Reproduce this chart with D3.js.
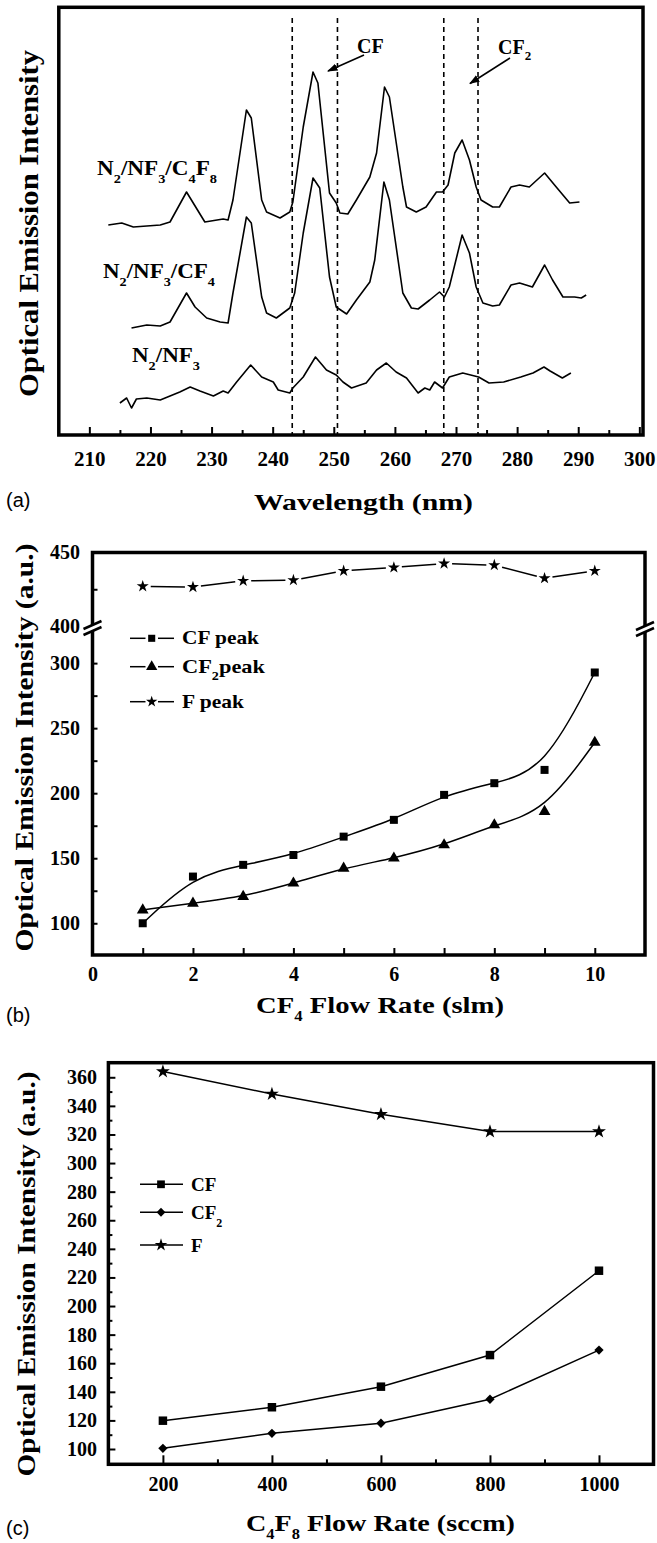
<!DOCTYPE html>
<html lang="en">
<head>
<meta charset="UTF-8">
<title>Optical emission intensity</title>
<script src="https://cdnjs.cloudflare.com/ajax/libs/d3/7.8.5/d3.min.js"></script>
<style>
  body { margin: 0; background: #fff; }
  svg text { font-family: "Liberation Serif", "Times New Roman", serif; font-weight: bold; fill: #000; }
  svg text.tag { font-family: "Liberation Sans", Arial, sans-serif; font-weight: normal; }
</style>
</head>
<body>
<svg id="chart" width="657" height="1543"></svg>
<script>
// ---------- (a) spectra: wavelength (nm) / intensity (a.u.) ----------
const waveC4F8 = [213.1,215.3,217.2,221.6,223.2,225.9,228.9,231.9,232.7,233.5,235.7,236.5,238.2,239.0,241.2,242.8,243.3,245.0,246.6,247.4,249.3,250.4,251.0,252.3,253.7,255.9,257.0,258.3,259.1,261.3,261.9,263.5,265.1,266.8,267.8,268.7,269.8,271.0,272.2,273.3,274.1,276.0,277.1,279.0,280.4,282.0,284.5,286.4,288.6,290.2];
const intC4F8 = [210,212,208,210,213,243,213,216,215,235,325,317,235,223,217,223,233,308,363,352,242,232,222,221,235,258,282,348,338,248,228,223,228,243,243,250,282,295,275,248,235,228,228,248,250,248,262,248,232,233];

const waveCF4 = [216.9,219.4,221.6,223.2,225.9,227.3,229.2,231.4,232.7,233.5,235.7,236.5,238.2,239.0,240.6,242.8,243.6,245.0,246.6,247.7,249.3,250.4,252.1,253.7,255.9,256.7,258.2,259.1,261.3,262.7,263.8,265.7,267.3,268.1,268.9,271.0,272.2,273.3,274.4,276.0,277.1,279.0,280.4,282.5,284.5,285.8,287.5,289.4,290.5,291.3];
const intCF4 = [107,110,109,113,142,128,117,113,112,142,218,212,138,122,117,127,142,202,257,247,158,128,121,135,153,175,253,235,142,127,126,135,143,138,148,200,182,148,132,129,130,150,152,148,170,155,138,138,137,140];

const waveNF3 = [215.0,216.1,216.9,217.7,219.4,221.6,224.8,226.5,228.1,230.3,231.9,232.7,234.1,236.4,238.2,240.1,240.9,242.8,243.3,245.0,247.0,248.8,250.4,251.5,252.9,255.3,257.0,258.6,260.2,261.9,263.8,264.9,265.7,266.5,267.8,268.9,271.1,273.7,275.4,277.8,280.6,282.6,284.4,285.4,287.4,288.8];
const intNF3 = [32,37,27,36,37,35,43,48,44,39,44,42,53,70,58,53,45,42,47,58,78,65,60,53,47,52,65,72,63,57,42,47,45,53,47,58,62,58,52,53,58,62,68,64,57,62];

const peakLines = [243.2, 250.6, 268.0, 273.6];
const waveTicks = [210, 220, 230, 240, 250, 260, 270, 280, 290, 300];
const waveMinor = [215, 225, 235, 245, 255, 265, 275, 285, 295];

// ---------- (b) CF4 flow rate ----------
const cf4Flow = [1, 2, 3, 4, 5, 6, 7, 8, 9, 10];
const cf4CF  = [100, 135.9, 144.9, 152.5, 166.6, 179.5, 198.7, 207.7, 217.9, 292.8];
const cf4CF2 = [110.2, 115.4, 120.5, 130.8, 142.3, 150, 160.2, 175.6, 185.8, 239];
const cf4F   = [427, 426.5, 430.7, 431.2, 437.5, 439.8, 442.5, 441.4, 432.5, 437.5];
const cf4XLabels = [0, 2, 4, 6, 8, 10];
const cf4LowTicks = [100, 125, 150, 175, 200, 225, 250, 275, 300];
const cf4LowLabels = [100, 150, 200, 250, 300];
const cf4HighTicks = [425];
const cf4HighLabels = [400, 450];

// ---------- (c) C4F8 flow rate ----------
const c4f8Flow = [200, 400, 600, 800, 1000];
const c4f8CF  = [119.8, 129.2, 143.6, 165.7, 224.7];
const c4f8CF2 = [100.5, 111, 118, 134.8, 169.2];
const c4f8F   = [364, 348.3, 334.1, 322, 322];
const c4f8XLabels = [200, 400, 600, 800, 1000];
const c4f8XMinor = [300, 500, 700, 900];
const c4f8YLabels = [100, 120, 140, 160, 180, 200, 220, 240, 260, 280, 300, 320, 340, 360];
const c4f8YMinor = [110, 130, 150, 170, 190, 210, 230, 250, 270, 290, 310, 330, 350];

const svg = d3.select('#chart');

function frame(x0, y0, x1, y1) {
  svg.append('rect')
    .attr('x', x0).attr('y', y0)
    .attr('width', x1 - x0).attr('height', y1 - y0)
    .attr('fill', 'none').attr('stroke', '#000').attr('stroke-width', 3.5);
}

// text with subscripts: parts starting with "_" are subscripts
function rich(sel, parts, subSize, subDy) {
  let down = false;
  parts.forEach(p => {
    const isSub = p.startsWith('_');
    const t = sel.append('tspan').text(isSub ? p.slice(1) : p);
    if (isSub) {
      t.attr('font-size', subSize);
      if (!down) { t.attr('dy', subDy); down = true; }
    } else if (down) {
      t.attr('dy', -subDy); down = false;
    }
  });
  return sel;
}

function styleAxis(g, size) {
  g.attr('font-size', size);
  g.select('.domain').remove();
  g.selectAll('.tick line').attr('stroke-width', 2);
}

function yTitle(x, y, len, size, txt) {
  svg.append('text')
    .attr('transform', `translate(${x},${y}) rotate(-90)`)
    .attr('text-anchor', 'middle')
    .attr('font-size', size)
    .attr('textLength', len).attr('lengthAdjust', 'spacingAndGlyphs')
    .text(txt);
}

function tag(x, y, txt) {
  svg.append('text').attr('class', 'tag').attr('x', x).attr('y', y)
    .attr('font-size', 20).text(txt);
}

// arrowhead
svg.append('defs').append('marker')
  .attr('id', 'arrow').attr('viewBox', '0 0 10 10')
  .attr('refX', 9).attr('refY', 5)
  .attr('markerWidth', 7).attr('markerHeight', 7)
  .attr('orient', 'auto')
  .append('path').attr('d', 'M0,1.5 L10,5 L0,8.5 Z').attr('fill', '#000');

// =================== panel (a) ===================
const ax = d3.scaleLinear().domain([205, 300.6]).range([58.8, 643]);
const ay = d3.scaleLinear().domain([0, 428]).range([435, 7]);

const specLine = d3.line().x(d => ax(d[0])).y(d => ay(d[1]));
[[waveC4F8, intC4F8], [waveCF4, intCF4], [waveNF3, intNF3]].forEach(([w, v]) => {
  svg.append('path')
    .datum(w.map((x, i) => [x, v[i]]))
    .attr('d', specLine)
    .attr('fill', 'none').attr('stroke', '#000').attr('stroke-width', 1.6)
    .attr('stroke-linejoin', 'round');
});

svg.selectAll('.peak-line').data(peakLines).enter().append('line')
  .attr('class', 'peak-line')
  .attr('x1', d => ax(d)).attr('x2', d => ax(d))
  .attr('y1', 18).attr('y2', 435)
  .attr('stroke', '#000').attr('stroke-width', 1.6)
  .attr('stroke-dasharray', '5,4');

const axMinor = svg.append('g').attr('transform', 'translate(0,435)')
  .call(d3.axisBottom(ax).tickValues(waveMinor).tickSize(-5).tickFormat(''));
styleAxis(axMinor, 21);
const axMajor = svg.append('g').attr('transform', 'translate(0,435)')
  .call(d3.axisBottom(ax).tickValues(waveTicks).tickSize(-8).tickPadding(16).tickFormat(d3.format('d')));
styleAxis(axMajor, 21);

frame(58.8, 7.3, 643, 435);

// series labels
rich(svg.append('text').attr('x', 97).attr('y', 175).attr('font-size', 21)
  .attr('textLength', 120).attr('lengthAdjust', 'spacingAndGlyphs'),
  ['N', '_2', '/NF', '_3', '/C', '_4', 'F', '_8'], 13, 8);
rich(svg.append('text').attr('x', 103).attr('y', 278).attr('font-size', 21)
  .attr('textLength', 112).attr('lengthAdjust', 'spacingAndGlyphs'),
  ['N', '_2', '/NF', '_3', '/CF', '_4'], 13, 8);
rich(svg.append('text').attr('x', 132).attr('y', 362).attr('font-size', 21)
  .attr('textLength', 68).attr('lengthAdjust', 'spacingAndGlyphs'),
  ['N', '_2', '/NF', '_3'], 13, 8);

// peak annotations
svg.append('text').attr('x', 357).attr('y', 52.5).attr('font-size', 20).text('CF');
svg.append('line').attr('x1', 364).attr('y1', 55).attr('x2', 328).attr('y2', 71)
  .attr('stroke', '#000').attr('stroke-width', 1.5).attr('marker-end', 'url(#arrow)');
rich(svg.append('text').attr('x', 498).attr('y', 53.5).attr('font-size', 20),
  ['CF', '_2'], 13, 6);
svg.append('line').attr('x1', 510).attr('y1', 58).attr('x2', 470).attr('y2', 83.5)
  .attr('stroke', '#000').attr('stroke-width', 1.5).attr('marker-end', 'url(#arrow)');

svg.append('text').attr('x', 363.5).attr('y', 510).attr('text-anchor', 'middle')
  .attr('font-size', 24).attr('textLength', 219).attr('lengthAdjust', 'spacingAndGlyphs')
  .text('Wavelength (nm)');
yTitle(38, 223.5, 347, 28, 'Optical Emission Intensity');
tag(6, 507, '(a)');

// =================== panel (b) ===================
const bx = d3.scaleLinear().domain([0, 11]).range([92.5, 645]);
const byLow = d3.scaleLinear().domain([75.6, 327]).range([955, 628]);
const byHigh = d3.scaleLinear().domain([400, 450]).range([626, 552.5]);

const bTicks = svg.append('g').attr('transform', 'translate(0,955)')
  .call(d3.axisBottom(bx).tickValues(cf4Flow).tickSize(-7).tickFormat(''));
styleAxis(bTicks, 20);
const bLabels = svg.append('g').attr('transform', 'translate(0,955)')
  .call(d3.axisBottom(bx).tickValues(cf4XLabels).tickSize(0).tickPadding(12).tickFormat(d3.format('d')));
styleAxis(bLabels, 20);

const bLowT = svg.append('g').attr('transform', 'translate(92.5,0)')
  .call(d3.axisLeft(byLow).tickValues(cf4LowTicks).tickSize(-5).tickFormat(''));
styleAxis(bLowT, 20);
const bLowL = svg.append('g').attr('transform', 'translate(92.5,0)')
  .call(d3.axisLeft(byLow).tickValues(cf4LowLabels).tickSize(0).tickPadding(12.5));
styleAxis(bLowL, 20);
const bHighT = svg.append('g').attr('transform', 'translate(92.5,0)')
  .call(d3.axisLeft(byHigh).tickValues(cf4HighTicks).tickSize(-5).tickFormat(''));
styleAxis(bHighT, 20);
const bHighL = svg.append('g').attr('transform', 'translate(92.5,0)')
  .call(d3.axisLeft(byHigh).tickValues(cf4HighLabels).tickSize(0).tickPadding(12.5));
styleAxis(bHighL, 20);

frame(92.5, 552.5, 645, 955);

// axis break marks
[[92.5, 628], [645, 629]].forEach(([x, y]) => {
  const g = svg.append('g').attr('transform', `translate(${x},${y})`);
  g.append('path').attr('d', 'M-9,1 L9,-7 L9,-1 L-9,7 Z').attr('fill', '#fff');
  g.append('line').attr('x1', -9).attr('y1', 1).attr('x2', 9).attr('y2', -7)
    .attr('stroke', '#000').attr('stroke-width', 2.5);
  g.append('line').attr('x1', -9).attr('y1', 7).attr('x2', 9).attr('y2', -1)
    .attr('stroke', '#000').attr('stroke-width', 2.5);
});

const smooth = (ys, sc) => d3.line().curve(d3.curveBasis).x((d, i) => bx(cf4Flow[i])).y(d => sc(d))(ys);
svg.append('path').attr('d', smooth(cf4CF, byLow))
  .attr('fill', 'none').attr('stroke', '#000').attr('stroke-width', 1.5);
svg.append('path').attr('d', smooth(cf4CF2, byLow))
  .attr('fill', 'none').attr('stroke', '#000').attr('stroke-width', 1.5);

// F peak: straight segments broken around the markers
const fPts = cf4Flow.map((x, i) => [bx(x), byHigh(cf4F[i])]);
for (let i = 0; i < fPts.length - 1; i++) {
  const [x0, y0] = fPts[i], [x1, y1] = fPts[i + 1];
  const L = Math.hypot(x1 - x0, y1 - y0), ux = (x1 - x0) / L, uy = (y1 - y0) / L, gap = 8;
  svg.append('line')
    .attr('x1', x0 + ux * gap).attr('y1', y0 + uy * gap)
    .attr('x2', x1 - ux * gap).attr('y2', y1 - uy * gap)
    .attr('stroke', '#000').attr('stroke-width', 1.5);
}

const sym = (type, size) => d3.symbol().type(type).size(size)();
function markers(xs, ys, xsc, ysc, type, size) {
  svg.append('g').selectAll('path').data(ys).enter().append('path')
    .attr('transform', (d, i) => `translate(${xsc(xs[i])},${ysc(d)})`)
    .attr('d', sym(type, size)).attr('fill', '#000');
}
markers(cf4Flow, cf4CF, bx, byLow, d3.symbolSquare, 64);
markers(cf4Flow, cf4CF2, bx, byLow, d3.symbolTriangle, 60);
markers(cf4Flow, cf4F, bx, byHigh, d3.symbolStar, 45);

// legend (b)
const bLegend = [
  { type: d3.symbolSquare, size: 50, parts: ['CF peak'], len: 77 },
  { type: d3.symbolTriangle, size: 55, parts: ['CF', '_2', 'peak'], len: 83 },
  { type: d3.symbolStar, size: 40, parts: ['F peak'], len: 62 }
];
const bLegendY = [638.3, 666.7, 701.7];
bLegend.forEach((e, i) => {
  const y = bLegendY[i];
  svg.append('line').attr('x1', 130).attr('x2', 145.5).attr('y1', y).attr('y2', y)
    .attr('stroke', '#000').attr('stroke-width', 1.5);
  svg.append('line').attr('x1', 158).attr('x2', 174).attr('y1', y).attr('y2', y)
    .attr('stroke', '#000').attr('stroke-width', 1.5);
  svg.append('path').attr('transform', `translate(151.7,${y})`).attr('d', sym(e.type, e.size));
  rich(svg.append('text').attr('x', 182).attr('y', y + 6).attr('font-size', 19)
    .attr('textLength', e.len).attr('lengthAdjust', 'spacingAndGlyphs'), e.parts, 12, 7);
});

rich(svg.append('text').attr('x', 256).attr('y', 1013).attr('font-size', 24)
  .attr('textLength', 248).attr('lengthAdjust', 'spacingAndGlyphs'),
  ['CF', '_4', ' Flow Rate (slm)'], 14, 8);
yTitle(33, 747.5, 408, 25, 'Optical Emission Intensity (a.u.)');
tag(6, 1022, '(b)');

// =================== panel (c) ===================
const cx = d3.scaleLinear().domain([100, 1100]).range([108.4, 653.5]);
const cy = d3.scaleLinear().domain([89.3, 370.2]).range([1464.3, 1062.7]);

const cxMinor = svg.append('g').attr('transform', 'translate(0,1464.3)')
  .call(d3.axisBottom(cx).tickValues(c4f8XMinor).tickSize(-5).tickFormat(''));
styleAxis(cxMinor, 20);
const cxMajor = svg.append('g').attr('transform', 'translate(0,1464.3)')
  .call(d3.axisBottom(cx).tickValues(c4f8XLabels).tickSize(-9).tickPadding(12.5).tickFormat(d3.format('d')));
styleAxis(cxMajor, 20);
const cyMinor = svg.append('g').attr('transform', 'translate(108.4,0)')
  .call(d3.axisLeft(cy).tickValues(c4f8YMinor).tickSize(-4).tickFormat(''));
styleAxis(cyMinor, 20);
const cyMajor = svg.append('g').attr('transform', 'translate(108.4,0)')
  .call(d3.axisLeft(cy).tickValues(c4f8YLabels).tickSize(-7).tickPadding(11.5));
styleAxis(cyMajor, 20);
cyMajor.selectAll('text').attr('x', -11.5);

frame(108.4, 1062.7, 653.5, 1464.3);

const cLine = d3.line().x((d, i) => cx(c4f8Flow[i])).y(d => cy(d));
[c4f8CF, c4f8CF2, c4f8F].forEach(s => {
  svg.append('path').attr('d', cLine(s))
    .attr('fill', 'none').attr('stroke', '#000').attr('stroke-width', 1.5);
});
const diamond = d3.symbolDiamond2 || d3.symbolDiamond;
markers(c4f8Flow, c4f8CF, cx, cy, d3.symbolSquare, 72);
markers(c4f8Flow, c4f8CF2, cx, cy, diamond, 55);
markers(c4f8Flow, c4f8F, cx, cy, d3.symbolStar, 60);

const cLegend = [
  { type: d3.symbolSquare, size: 60, parts: ['CF'] },
  { type: diamond, size: 50, parts: ['CF', '_2'] },
  { type: d3.symbolStar, size: 50, parts: ['F'] }
];
const cLegendY = [1184.3, 1212.3, 1245];
cLegend.forEach((e, i) => {
  const y = cLegendY[i];
  svg.append('line').attr('x1', 140).attr('x2', 183).attr('y1', y).attr('y2', y)
    .attr('stroke', '#000').attr('stroke-width', 1.5);
  svg.append('path').attr('transform', `translate(161,${y})`).attr('d', sym(e.type, e.size));
  rich(svg.append('text').attr('x', 191).attr('y', y + 6.5).attr('font-size', 19), e.parts, 12, 8);
});

rich(svg.append('text').attr('x', 246).attr('y', 1531).attr('font-size', 24)
  .attr('textLength', 269).attr('lengthAdjust', 'spacingAndGlyphs'),
  ['C', '_4', 'F', '_8', ' Flow Rate (sccm)'], 14, 8);
yTitle(34.5, 1274, 405, 25, 'Optical Emission Intensity (a.u.)');
tag(6, 1535, '(c)');
</script>
</body>
</html>
